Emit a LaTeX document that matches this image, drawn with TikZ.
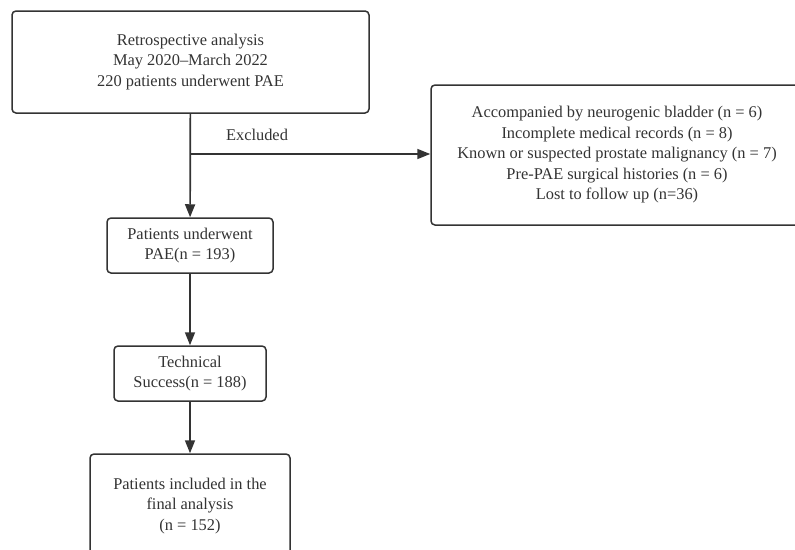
\documentclass[tikz,border=0pt]{standalone}
\usepackage{fontspec}
\setmainfont{Liberation Serif}
\usepackage{tikz}
\usetikzlibrary{arrows.meta}

\begin{document}
\begin{tikzpicture}[x=1pt,y=-1pt,>={Triangle[length=13pt,width=10pt]},font=\fontsize{16.4}{20.5}\selectfont]
		\tikzstyle{stage}=[draw=black!80,line width=1.5pt,rounded corners=4pt,align=center,text=black!80,inner sep=0pt]
		\tikzstyle{link}=[draw=black!80,line width=1.7pt]

		\clip (0,0) rectangle (795,549);

		\node[stage,minimum width=357pt,minimum height=102pt](start) at (190.5,62){Retrospective analysis\\May 2020--March 2022\\220 patients underwent PAE};
		\node[stage,minimum width=372pt,minimum height=140pt](excl) at (617,155){Accompanied by neurogenic bladder (n = 6)\\Incomplete medical records (n = 8)\\Known or suspected prostate malignancy (n = 7)\\Pre-PAE surgical histories (n = 6)\\Lost to follow up (n=36)};
		\node[stage,minimum width=166pt,minimum height=55pt](pae) at (190,245.5){Patients underwent\\PAE(n = 193)};
		\node[stage,minimum width=152pt,minimum height=55pt](tech) at (190,373.5){Technical\\Success(n = 188)};
		\node[stage,minimum width=200pt,minimum height=104pt](final) at (190,506){Patients included in the\\final analysis\\(n = 152)};

		\coordinate(split) at (190,154);
		\node[text=black!80](exlabel) at (257,135){Excluded};

		\draw[link,->] (start) -- (pae);
		\draw[link,->] (split) -- (split -| excl.west);
		\draw[link,->] (pae) -- (tech);
		\draw[link,->] (tech) -- (final);
	\end{tikzpicture}
\end{document}
